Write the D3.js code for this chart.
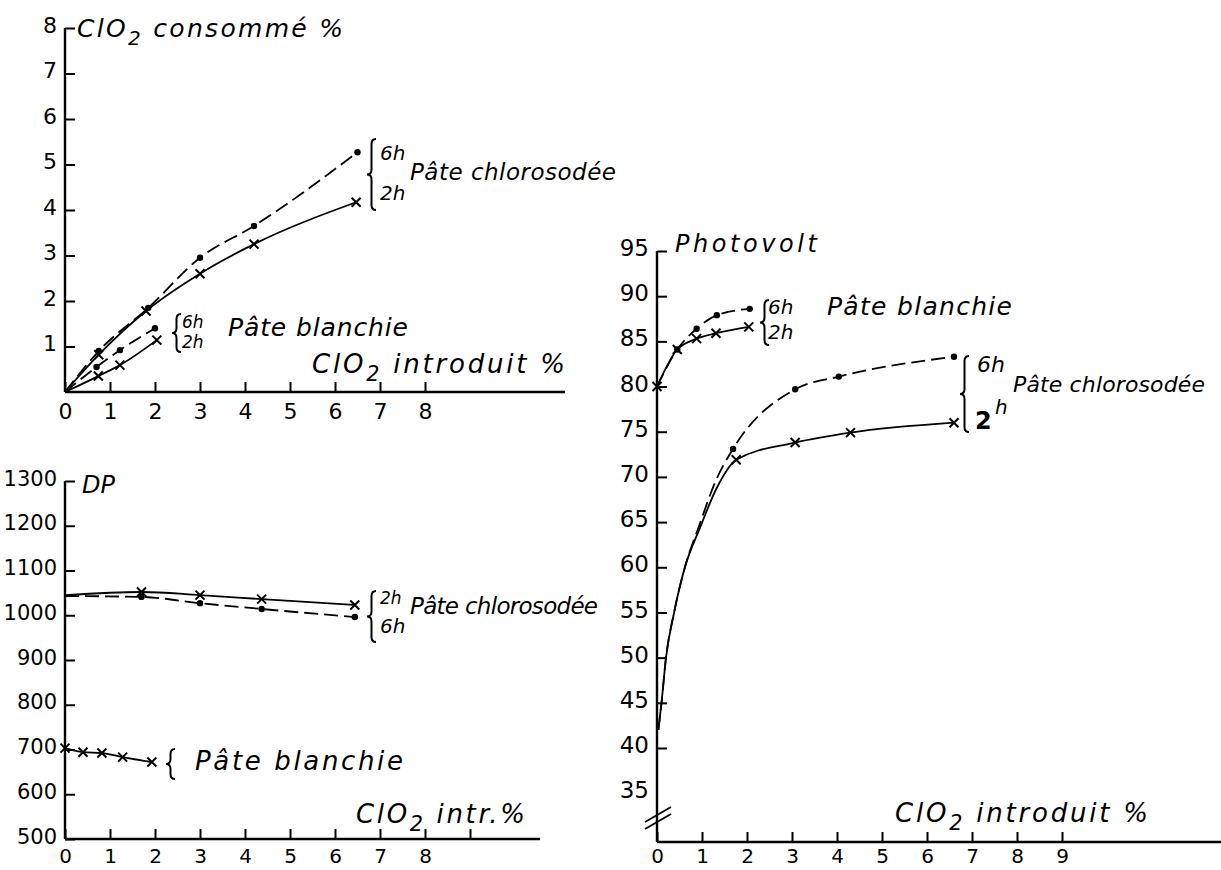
<!DOCTYPE html>
<html>
<head>
<meta charset="utf-8">
<script src="https://cdn.jsdelivr.net/npm/d3@7"></script>
<style>
  body { margin: 0; background: #fff; }
  svg { display: block; }
  .tick text { font-family: "DejaVu Sans", sans-serif; fill: #000; }
  .hand { font-family: "DejaVu Sans", sans-serif; font-style: italic; fill: #000; }
</style>
</head>
<body>
<div id="chart"></div>
<script>
// --- ClO2 consommé % (top left) ---
var consChloro6X = [0, 0.75, 1.85, 3.0, 4.2, 6.5];
var consChloro6Y = [0, 0.9, 1.85, 2.95, 3.65, 5.27];
var consChloro2X = [0, 0.75, 1.8, 3.0, 4.2, 6.47];
var consChloro2Y = [0, 0.82, 1.78, 2.6, 3.25, 4.17];
var consBlanc6X = [0, 0.7, 1.22, 2.0];
var consBlanc6Y = [0, 0.55, 0.92, 1.4];
var consBlanc2X = [0, 0.74, 1.22, 2.04];
var consBlanc2Y = [0, 0.35, 0.59, 1.14];
var consYTicks = [1, 2, 3, 4, 5, 6, 7, 8];
var consXTicks = [0, 1, 2, 3, 4, 5, 6, 7, 8];

// --- DP (bottom left) ---
var dpChloro2X = [0, 1.7, 3.0, 4.37, 6.44];
var dpChloro2Y = [1045, 1052, 1045, 1036, 1023];
var dpChloro6X = [0, 1.7, 3.0, 4.37, 6.44];
var dpChloro6Y = [1043, 1041, 1027, 1014, 996];
var dpBlancX = [0, 0.4, 0.82, 1.28, 1.93];
var dpBlancY = [703, 694, 692, 683, 672];
var dpYTicks = [500, 600, 700, 800, 900, 1000, 1100, 1200, 1300];
var dpXTicks = [0, 1, 2, 3, 4, 5, 6, 7, 8, 9];

// --- Photovolt (right) ---
var pvBlanc6X = [0, 0.45, 0.88, 1.33, 2.06];
var pvBlanc6Y = [80, 84.1, 86.4, 87.9, 88.6];
var pvBlanc2X = [0, 0.45, 0.88, 1.31, 2.04];
var pvBlanc2Y = [80, 84.1, 85.3, 85.9, 86.6];
var pvChloro6X = [0.03, 0.1, 0.2, 0.38, 0.62, 0.93, 1.3, 1.69, 3.07, 4.04, 6.6];
var pvChloro6Y = [42, 45, 50, 55, 60, 64.5, 69.5, 73.1, 79.7, 81.1, 83.3];
var pvChloro6Mark = [0, 0, 0, 0, 0, 0, 0, 1, 1, 1, 1];
var pvChloro2X = [0.03, 0.1, 0.2, 0.38, 0.62, 0.95, 1.33, 1.76, 3.07, 4.3, 6.6];
var pvChloro2Y = [42, 45, 50, 55, 60, 64.3, 68.8, 71.9, 73.8, 74.9, 76.0];
var pvChloro2Mark = [0, 0, 0, 0, 0, 0, 0, 1, 1, 1, 1];
var pvYTicks = [40, 45, 50, 55, 60, 65, 70, 75, 80, 85, 90, 95];
var pvXTicks = [0, 1, 2, 3, 4, 5, 6, 7, 8, 9];

var svg = d3.select("#chart").append("svg")
  .attr("width", 1221)
  .attr("height", 870);

function zip(xs, ys, marks) {
  return xs.map(function(x, i) {
    return { x: x, y: ys[i], m: marks ? marks[i] : (i > 0 ? 1 : 0) };
  });
}

// axis line drawn by hand so it can run past the last tick
function axisLine(x1, y1, x2, y2) {
  svg.append("line")
    .attr("x1", x1).attr("y1", y1).attr("x2", x2).attr("y2", y2)
    .attr("stroke", "#000").attr("stroke-width", 2.4);
}

function drawAxes(x, y, baseY, xTicks, yTicks, xFmt, yFont, xFont, xPad) {
  var bottom = d3.axisBottom(x).tickValues(xTicks).tickSizeInner(-10).tickSizeOuter(0)
    .tickPadding(xPad || 11)
    .tickFormat(xFmt || d3.format("d"));
  var gx = svg.append("g")
    .attr("transform", "translate(0," + baseY + ")")
    .call(bottom);
  gx.select(".domain").remove();
  gx.selectAll("line").attr("stroke-width", 2);
  gx.selectAll("text").style("font-size", (xFont || 22) + "px");

  var left = d3.axisLeft(y).tickValues(yTicks).tickSizeInner(-10).tickSizeOuter(0).tickPadding(8)
    .tickFormat(d3.format("d"));
  var gy = svg.append("g")
    .attr("transform", "translate(" + x.range()[0] + ",0)")
    .call(left);
  gy.select(".domain").remove();
  gy.selectAll("line").attr("stroke-width", 2);
  gy.selectAll("text").style("font-size", (yFont || 22) + "px").attr("dy", "0.2em");
}

function drawSeries(x, y, pts, dashed, marker) {
  var line = d3.line()
    .x(function(d) { return x(d.x); })
    .y(function(d) { return y(d.y); })
    .curve(d3.curveMonotoneX);
  svg.append("path")
    .datum(pts)
    .attr("d", line)
    .attr("fill", "none")
    .attr("stroke", "#000")
    .attr("stroke-width", 1.8)
    .attr("stroke-dasharray", dashed ? "14,6" : null);

  var marks = pts.filter(function(d) { return d.m; });
  if (marker === "dot") {
    svg.selectAll(null).data(marks).enter().append("circle")
      .attr("cx", function(d) { return x(d.x); })
      .attr("cy", function(d) { return y(d.y); })
      .attr("r", 3.2)
      .attr("fill", "#000");
  } else {
    var s = 4.5;
    svg.selectAll(null).data(marks).enter().append("path")
      .attr("d", function(d) {
        var cx = x(d.x), cy = y(d.y);
        return "M" + (cx - s) + "," + (cy - s) + "L" + (cx + s) + "," + (cy + s) +
          "M" + (cx - s) + "," + (cy + s) + "L" + (cx + s) + "," + (cy - s);
      })
      .attr("stroke", "#000")
      .attr("stroke-width", 2);
  }
}

// left curly brace, tip pointing left
function brace(xx, y0, y1) {
  var w = 9, ym = (y0 + y1) / 2, r = 5;
  var p = "M" + (xx + w) + "," + y0 +
    " Q" + (xx + w / 2) + "," + y0 + " " + (xx + w / 2) + "," + (y0 + r) +
    " L" + (xx + w / 2) + "," + (ym - r) +
    " Q" + (xx + w / 2) + "," + ym + " " + xx + "," + ym +
    " Q" + (xx + w / 2) + "," + ym + " " + (xx + w / 2) + "," + (ym + r) +
    " L" + (xx + w / 2) + "," + (y1 - r) +
    " Q" + (xx + w / 2) + "," + y1 + " " + (xx + w) + "," + y1;
  svg.append("path").attr("d", p).attr("fill", "none")
    .attr("stroke", "#000").attr("stroke-width", 2);
}

function label(txt, xx, yy, size, len) {
  var t = svg.append("text").attr("class", "hand")
    .attr("x", xx).attr("y", yy)
    .style("font-size", size + "px")
    .text(txt);
  if (len) t.attr("textLength", len).attr("lengthAdjust", "spacing");
  return t;
}

// "ClO2 ..." with subscript 2
function cloLabel(rest, xx, yy, size, len) {
  var t = svg.append("text").attr("class", "hand")
    .attr("x", xx).attr("y", yy)
    .style("font-size", size + "px");
  t.append("tspan").text("ClO");
  t.append("tspan").attr("dy", size * 0.3).style("font-size", (size * 0.8) + "px").text("2");
  t.append("tspan").attr("dy", -size * 0.3).text(rest);
  if (len) t.attr("textLength", len).attr("lengthAdjust", "spacing");
  return t;
}

// ===== Panel 1 : ClO2 consommé =====
var x1 = d3.scaleLinear().domain([0, 8]).range([65, 425]);
var y1 = d3.scaleLinear().domain([0, 8]).range([392, 28]);
axisLine(65, 392, 565, 392);
axisLine(65, 392, 65, 28);
drawAxes(x1, y1, 392, consXTicks, consYTicks);
drawSeries(x1, y1, zip(consChloro6X, consChloro6Y), true, "dot");
drawSeries(x1, y1, zip(consChloro2X, consChloro2Y), false, "x");
drawSeries(x1, y1, zip(consBlanc6X, consBlanc6Y), true, "dot");
drawSeries(x1, y1, zip(consBlanc2X, consBlanc2Y), false, "x");

cloLabel(" consommé %", 77, 37, 25, 266);
cloLabel(" introduit %", 312, 373, 26, 253);
brace(367, 139, 210);
label("6h", 380, 160, 20);
label("2h", 380, 200, 20);
label("Pâte chlorosodée", 410, 180, 23, 206);
brace(172, 314, 352);
label("6h", 182, 328, 17);
label("2h", 182, 348, 17);
label("Pâte blanchie", 228, 336, 25, 180);

// ===== Panel 2 : DP =====
var x2 = d3.scaleLinear().domain([0, 8]).range([65, 425]);
var y2 = d3.scaleLinear().domain([500, 1300]).range([839, 481]);
axisLine(65, 839, 540, 839);
axisLine(65, 839, 65, 481);
drawAxes(x2, y2, 839, dpXTicks, dpYTicks, function(d) { return d > 8 ? "" : d; }, 21, 20, 10);
drawSeries(x2, y2, zip(dpChloro2X, dpChloro2Y), false, "x");
drawSeries(x2, y2, zip(dpChloro6X, dpChloro6Y), true, "dot");
drawSeries(x2, y2, zip(dpBlancX, dpBlancY, [1, 1, 1, 1, 1]), false, "x");

label("DP", 82, 493, 24);
brace(367, 591, 642);
label("2h", 380, 604, 17);
label("6h", 380, 633, 20);
label("Pâte chlorosodée", 410, 614, 23, 188);
brace(166, 749, 779);
label("Pâte blanchie", 195, 770, 26, 208);
cloLabel(" intr.%", 356, 823, 26, 169);

// ===== Panel 3 : Photovolt =====
var x3 = d3.scaleLinear().domain([0, 9]).range([657, 1062]);
var y3 = d3.scaleLinear().domain([40, 95]).range([748, 251]);
axisLine(657, 842, 1221, 842);
axisLine(657, 842, 657, 251);
drawAxes(x3, y3, 842, pvXTicks, pvYTicks, null, 23, 20, 7);
// 35 is written without a tick below the break
svg.append("text")
  .attr("x", 649).attr("y", y3(35)).attr("dy", "0.2em")
  .attr("text-anchor", "end")
  .style("font-family", "DejaVu Sans, sans-serif").style("font-size", "23px")
  .text("35");
// axis break
[[645, 829, 671, 814], [645, 822, 671, 807]].forEach(function(b) {
  svg.append("line").attr("x1", b[0]).attr("y1", b[1]).attr("x2", b[2]).attr("y2", b[3])
    .attr("stroke", "#000").attr("stroke-width", 1.8);
});

drawSeries(x3, y3, zip(pvBlanc6X, pvBlanc6Y), true, "dot");
drawSeries(x3, y3, zip(pvBlanc2X, pvBlanc2Y, [1, 1, 1, 1, 1]), false, "x");
drawSeries(x3, y3, zip(pvChloro6X, pvChloro6Y, pvChloro6Mark), true, "dot");
drawSeries(x3, y3, zip(pvChloro2X, pvChloro2Y, pvChloro2Mark), false, "x");

label("Photovolt", 675, 252, 24, 142);
brace(760, 300, 345);
label("6h", 768, 314, 20);
label("2h", 768, 339, 20);
label("Pâte blanchie", 827, 315, 25, 185);
brace(960, 356, 432);
label("6h", 977, 372, 22);
label("Pâte chlorosodée", 1013, 392, 22, 192);
label("2", 975, 429, 24).style("font-style", "normal").style("font-weight", "bold");
label("h", 995, 414, 20);
cloLabel(" introduit %", 895, 822, 26, 253);
</script>
</body>
</html>
